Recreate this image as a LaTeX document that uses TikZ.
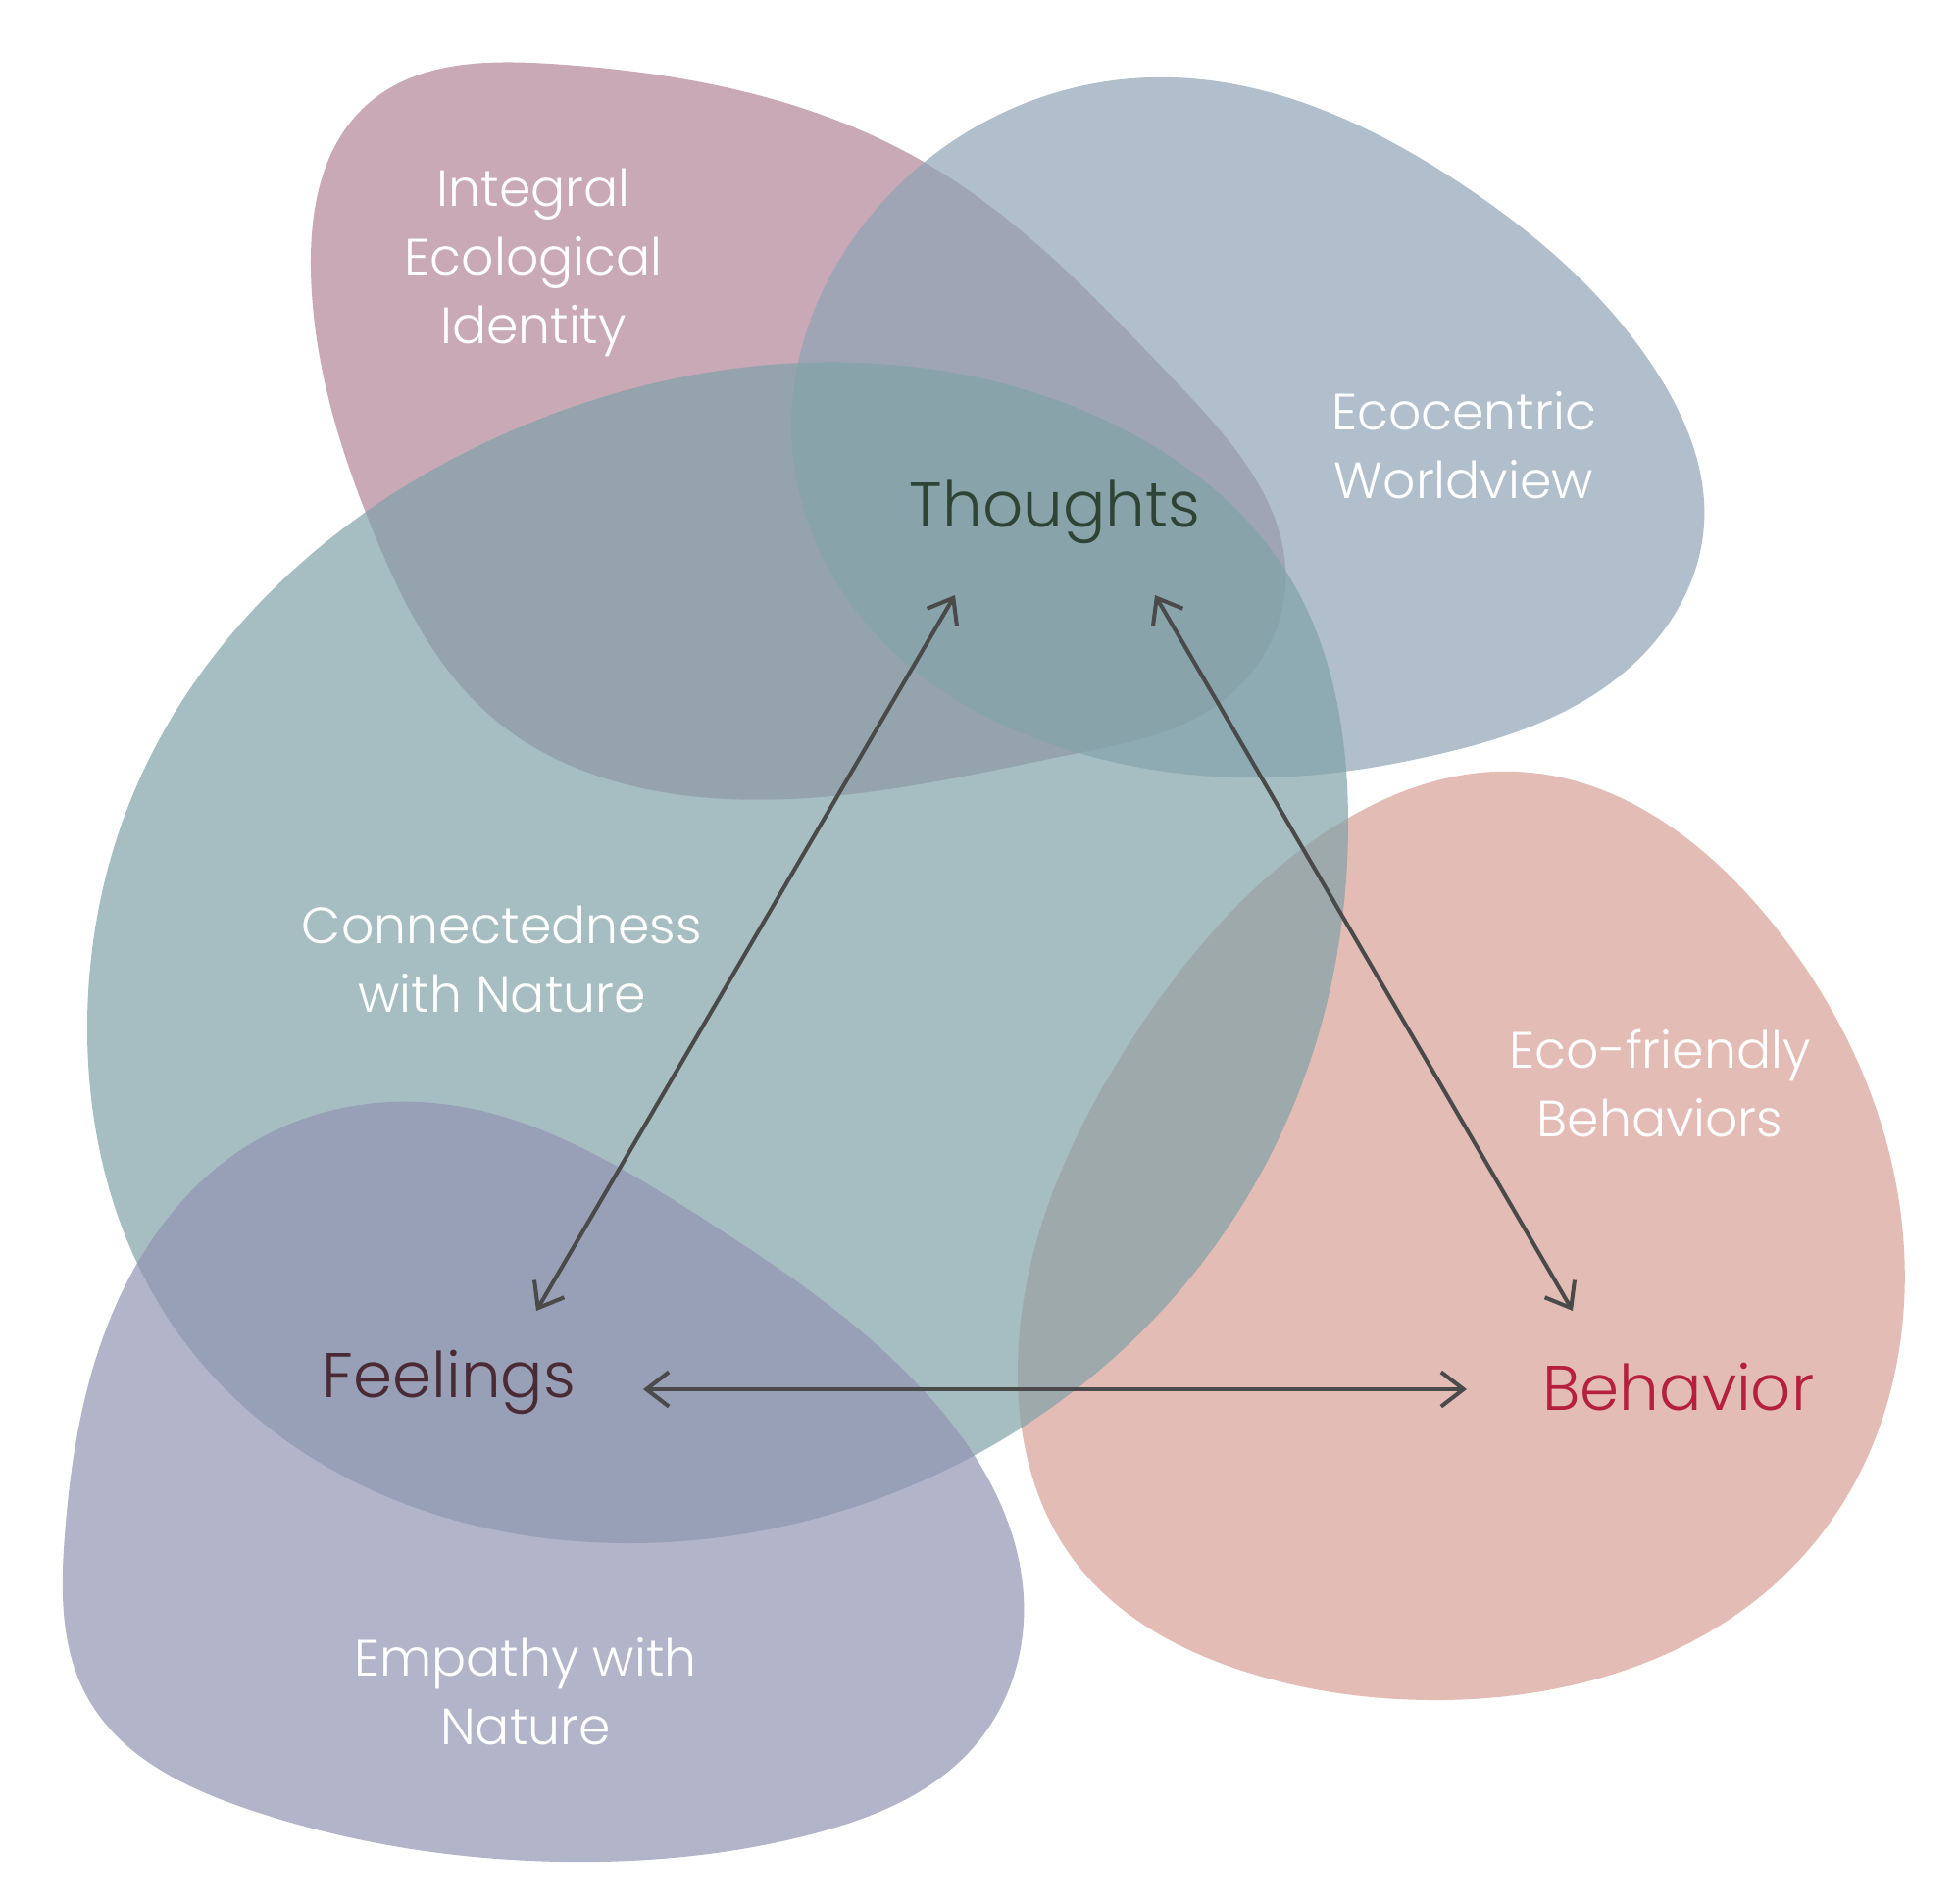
\documentclass[tikz,border=0pt]{standalone}
\usepackage{fontspec}
\setmainfont{Poppins}[UprightFont=* Light]
\usepackage{xcolor}
\usepackage{tikz}
\usetikzlibrary{arrows.meta,positioning,hobby}
\definecolor{mauve}{RGB}{178,132,151}
\definecolor{slate}{RGB}{142,164,181}
\definecolor{seagray}{RGB}{128,162,168}
\definecolor{lavender}{RGB}{146,149,178}
\definecolor{salmon}{RGB}{215,161,149}
\definecolor{arrowgray}{RGB}{74,74,74}
\definecolor{thoughtgreen}{RGB}{46,68,52}
\definecolor{feelplum}{RGB}{74,42,53}
\definecolor{behavred}{RGB}{181,32,63}

\begin{document}
\begin{tikzpicture}[
	x=0.01cm, y=-0.01cm,
	blob/.style={fill=#1, fill opacity=0.7, draw=none},
	blobtext/.style={text=white, align=center, inner sep=0pt,
	font=\fontsize{14.8}{19.9}\selectfont},
	core/.style={inner sep=0pt, font=\fontsize{18.3}{22}\selectfont},
	twoway/.style={{Straight Barb[length=6.5pt,width=10pt]}-{Straight Barb[length=6.5pt,width=10pt]},
	draw=arrowgray, line width=1.15pt}
]
\useasboundingbox (0,0) rectangle (1996,1942);
\fill[blob=salmon] plot[closed hobby] coordinates {
	(1547,787) (1808,942) (1941,1260) (1846,1579) (1458,1734)
	(1273,1706) (1095,1591) (1038,1400) (1161,1050) (1350,850)};
\fill[blob=mauve] plot[closed hobby] coordinates {
	(561,65) (942,165) (1200,390) (1311,598) (1240,720) (1100,768)
	(742,815) (500,730) (384,550) (317,273) (374,107)};
\fill[blob=slate] plot[closed hobby] coordinates {
	(1173,79) (1494,190) (1690,380) (1738,535) (1655,687) (1464,770)
	(1296,793) (1100,768) (896,650) (808,458) (880,230)};
\fill[blob=seagray] plot[closed hobby] coordinates {
	(877,370) (1150,440) (1310,580) (1375,840) (1330,1100) (1200,1320)
	(991,1486) (643,1574) (357,1509) (179,1356) (89,1050) (140,800)
	(260,620) (520,440)};
\fill[blob=lavender] plot[closed hobby] coordinates {
	(442,1125) (714,1241) (938,1414) (1044,1655) (993,1782) (827,1871)
	(573,1899) (255,1846) (89,1731) (66,1566) (134,1299) (250,1170)};

\node[blobtext] (identity) at (544,268) {Integral\\Ecological\\Identity};
\node[blobtext] (worldview) at (1493,454) {Ecocentric\\Worldview};
\node[blobtext] (connected) at (512,978) {Connectedness\\with Nature};
\node[blobtext] (ecofriendly) at (1693,1105) {Eco-friendly\\Behaviors};
\node[blobtext] (empathy) at (536,1725) {Empathy with\\Nature};

\node[core, text=thoughtgreen] (thoughts) at (1076,522) {Thoughts};
\node[core, text=feelplum] (feelings) at (458,1410) {Feelings};
\node[core, text=behavred] (behavior) at (1712,1415) {Behavior};

\coordinate (tf) at (974,607);
\coordinate (ft) at (547,1337);
\coordinate (tb) at (1178,607);
\coordinate (bt) at (1604,1337);
\coordinate (fb) at (656,1417);
\coordinate (bf) at (1496,1417);
\draw[twoway] (tf) -- (ft);
\draw[twoway] (tb) -- (bt);
\draw[twoway] (fb) -- (bf);
\end{tikzpicture}
\end{document}
